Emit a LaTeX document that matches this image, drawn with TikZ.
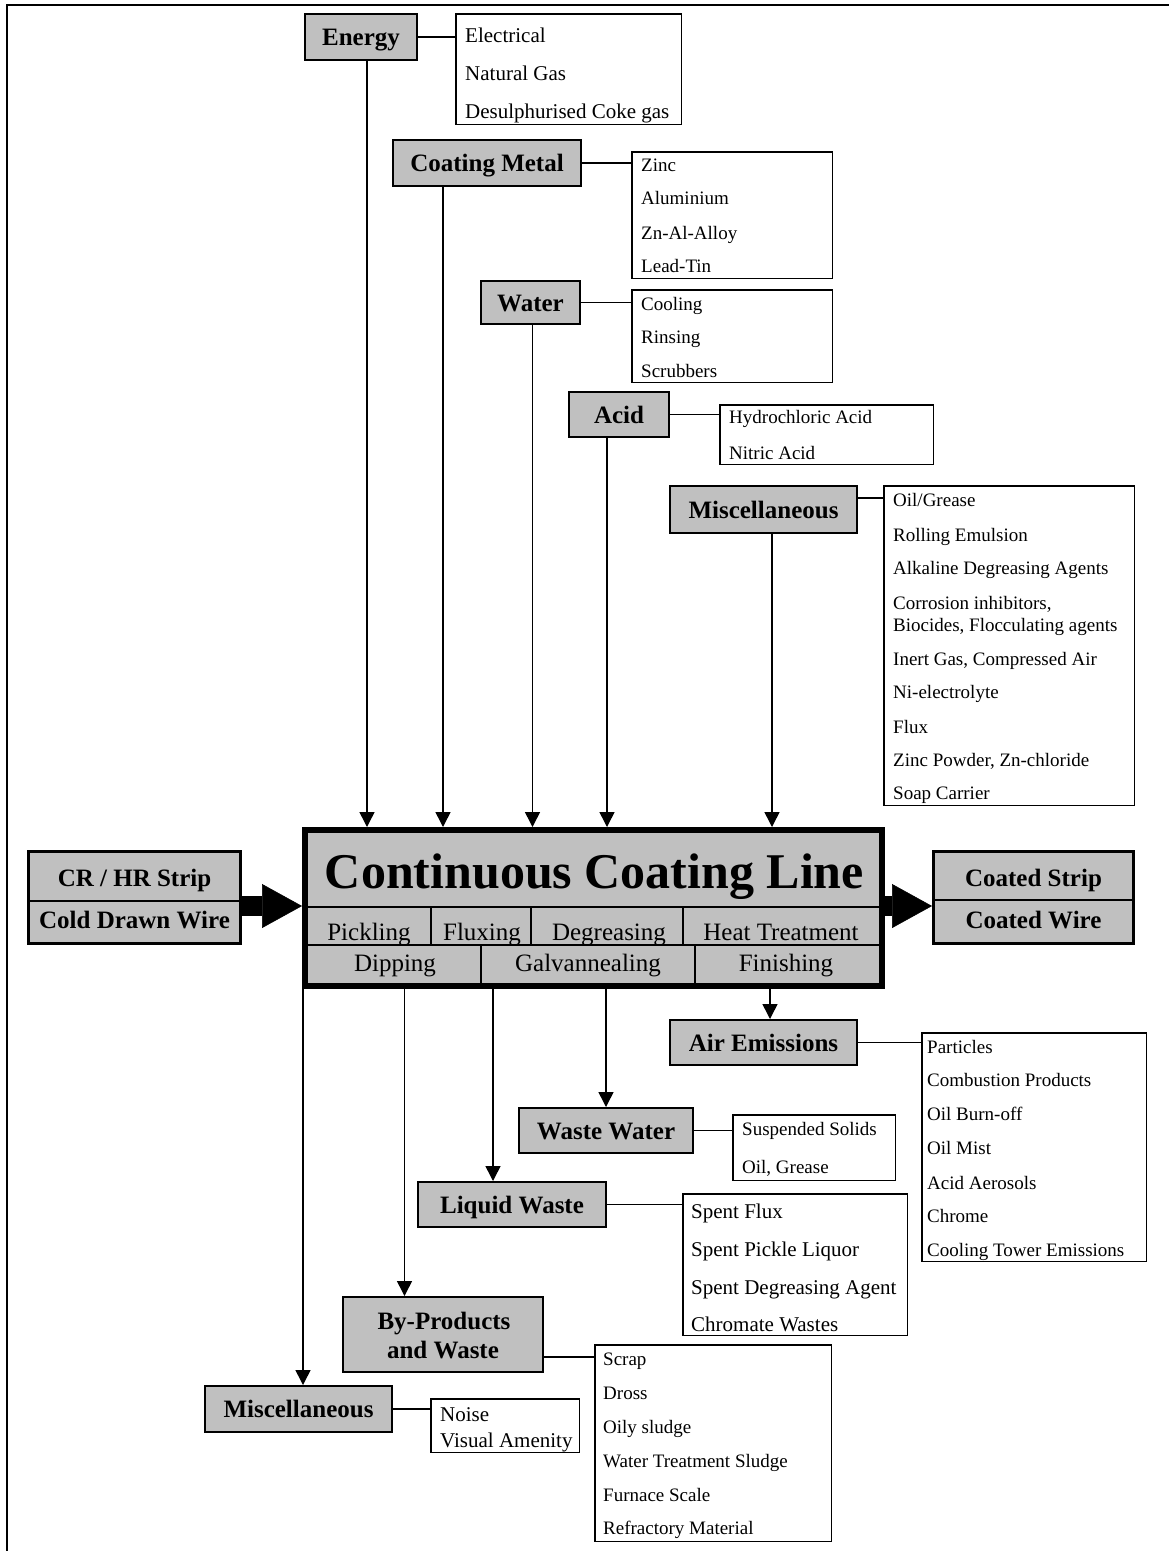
\documentclass[tikz,border=0pt]{standalone}
\usepackage{fontspec}
\setmainfont{Liberation Serif}
\usetikzlibrary{arrows.meta}
\definecolor{boxgray}{RGB}{192,192,192}
\begin{document}
\begin{tikzpicture}[x=1pt,y=-1pt,
  gbox/.style={draw, fill=boxgray, line width=2pt, inner sep=0pt, text height=17pt, text depth=0pt, font=\bfseries\fontsize{25}{29}\selectfont},
  tbox/.style={draw, fill=boxgray, line width=3pt, inner sep=0pt},
  lbox/.style={draw, fill=white, line width=1.5pt, inner sep=0pt},
  lbl/.style={anchor=base, inner sep=0pt, font=\bfseries\fontsize{25}{29}\selectfont},
  rowtxt/.style={anchor=base, inner sep=0pt, font=\fontsize{25}{29}\selectfont},
  item/.style={anchor=west, inner sep=0pt, text height=12.5pt, text depth=0pt, font=\fontsize{19}{22}\selectfont},
  itemL/.style={anchor=west, inner sep=0pt, text height=14pt, text depth=0pt, font=\fontsize{21}{24}\selectfont},
  link/.style={line width=1.5pt},
  arr/.style={line width=1.5pt, -{Triangle[length=15pt,width=15pt]}},
  big/.style={line width=20pt, -{Triangle[length=40pt,width=44pt,line width=0.5pt]}},
  thinrule/.style={line width=1.5pt}
]
\useasboundingbox (0,0) rectangle (1169,1551);
% frame
\draw[line width=2.5pt] (7,5) -- (1169,5);
\draw[line width=2pt] (7,4) -- (7,1551);

% ---------- inputs ----------
\node[gbox, minimum width=112pt, minimum height=46pt] (energy) at (361,37) {Energy};
\node[lbox, minimum width=225.5pt, minimum height=110.5pt] (elist) at (568.5,69) {};
\node[itemL] (e1) at (465,35) {Electrical};
\node[itemL] (e2) at (465,73) {Natural Gas};
\node[itemL] (e3) at (465,111) {Desulphurised Coke gas};
\draw[link] (energy.east) -- (energy.east -| elist.west);

\node[gbox, minimum width=188pt, minimum height=46pt] (coatm) at (487,163) {Coating Metal};
\node[lbox, minimum width=200.5pt, minimum height=126.5pt] (clist) at (732,215) {};
\node[item] (c1) at (641,165) {Zinc};
\node[item] (c2) at (641,198) {Aluminium};
\node[item] (c3) at (641,233) {Zn-Al-Alloy};
\node[item] (c4) at (641,266) {Lead-Tin};
\draw[link] (coatm.east) -- (coatm.east -| clist.west);

\node[gbox, minimum width=99pt, minimum height=43pt] (water) at (530.5,302.5) {Water};
\node[lbox, minimum width=200.5pt, minimum height=92.5pt] (wlist) at (732,336) {};
\node[item] (w1) at (641,304) {Cooling};
\node[item] (w2) at (641,337) {Rinsing};
\node[item] (w3) at (641,371) {Scrubbers};
\draw[link] (water.east) -- (water.east -| wlist.west);

\node[gbox, minimum width=100pt, minimum height=45pt] (acid) at (619,414.5) {Acid};
\node[lbox, minimum width=213.5pt, minimum height=59.5pt] (alist) at (826.5,434.5) {};
\node[item] (a1) at (729,417) {Hydrochloric Acid};
\node[item] (a2) at (729,453) {Nitric Acid};
\draw[link] (acid.east) -- (acid.east -| alist.west);

\node[gbox, minimum width=187pt, minimum height=47pt] (miscin) at (763.5,509.5) {Miscellaneous};
\node[lbox, minimum width=250.5pt, minimum height=319.5pt] (mlist) at (1009,645.5) {};
\node[item] (m1) at (893,500) {Oil/Grease};
\node[item] (m2) at (893,535) {Rolling Emulsion};
\node[item] (m3) at (893,568) {Alkaline Degreasing Agents};
\node[item] (m4) at (893,603) {Corrosion inhibitors,};
\node[item] (m4b) at (893,625) {Biocides, Flocculating agents};
\node[item] (m5) at (893,659) {Inert Gas, Compressed Air};
\node[item] (m6) at (893,692) {Ni-electrolyte};
\node[item] (m7) at (893,727) {Flux};
\node[item] (m8) at (893,760) {Zinc Powder, Zn-chloride};
\node[item] (m9) at (893,793) {Soap Carrier};
\coordinate (ym) at (0,498);
\draw[link] (miscin.east |- ym) -- (mlist.west |- ym);

% ---------- main box ----------
\node[draw, fill=boxgray, line width=6pt, inner sep=0pt, minimum width=577pt, minimum height=156pt] (main) at (593.5,908) {};
\node[anchor=base, inner sep=0pt, font=\bfseries\fontsize{50}{56}\selectfont] (title) at (594.5,888) {Continuous Coating Line};
\coordinate (r1) at (0,907);
\coordinate (r2) at (0,945);
\coordinate (r3) at (0,986);
\draw[thinrule] (main.west |- r1) -- (main.east |- r1);
\draw[thinrule] (main.west |- r2) -- (main.east |- r2);
\draw[thinrule] (431,907) -- (431,945);
\draw[thinrule] (531,907) -- (531,945);
\draw[thinrule] (683,907) -- (683,945);
\draw[thinrule] (481,945) -- (481,986);
\draw[thinrule] (695,945) -- (695,986);
\node[rowtxt] (p1) at (369,940) {Pickling};
\node[rowtxt] (p2) at (482,940) {Fluxing};
\node[rowtxt] (p3) at (609,940) {Degreasing};
\node[rowtxt] (p4) at (781,940) {Heat Treatment};
\node[rowtxt] (q1) at (395,971) {Dipping};
\node[rowtxt] (q2) at (588,971) {Galvannealing};
\node[rowtxt] (q3) at (786,971) {Finishing};

% arrows into main
\coordinate (xE) at (367,0);
\coordinate (xC) at (443,0);
\coordinate (xW) at (532.5,0);
\coordinate (xA) at (607,0);
\coordinate (xM) at (772,0);
\draw[arr] (energy.south -| xE) -- (main.north -| xE);
\draw[arr] (coatm.south -| xC) -- (main.north -| xC);
\draw[arr] (water.south -| xW) -- (main.north -| xW);
\draw[arr] (acid.south -| xA) -- (main.north -| xA);
\draw[arr] (miscin.south -| xM) -- (main.north -| xM);

% ---------- strip in / out ----------
\node[tbox, minimum width=212pt, minimum height=92pt] (crhr) at (134.5,897.5) {};
\draw[thinrule] (crhr.west |- 0,901) -- (crhr.east |- 0,901);
\node[lbl] (crhr1) at (134.5,886) {CR / HR Strip};
\node[lbl] (crhr2) at (134.5,928) {Cold Drawn Wire};

\node[tbox, minimum width=200pt, minimum height=92pt] (coated) at (1033.5,897.5) {};
\draw[thinrule] (coated.west |- 0,900) -- (coated.east |- 0,900);
\node[lbl] (coated1) at (1033.5,886) {Coated Strip};
\node[lbl] (coated2) at (1033.5,928) {Coated Wire};

\coordinate (ay) at (0,906);
\draw[big] (crhr.east |- ay) -- (main.west |- ay);
\draw[big] (main.east |- ay) -- (coated.west |- ay);

% ---------- outputs ----------
\node[gbox, minimum width=187pt, minimum height=45pt] (airem) at (763.5,1042.5) {Air Emissions};
\node[lbox, minimum width=224.5pt, minimum height=228.5pt] (airlist) at (1034,1147) {};
\node[item] (o1) at (927,1047) {Particles};
\node[item] (o2) at (927,1080) {Combustion Products};
\node[item] (o3) at (927,1114) {Oil Burn-off};
\node[item] (o4) at (927,1148) {Oil Mist};
\node[item] (o5) at (927,1183) {Acid Aerosols};
\node[item] (o6) at (927,1216) {Chrome};
\node[item] (o7) at (927,1250) {Cooling Tower Emissions};
\draw[link] (airem.east) -- (airem.east -| airlist.west);

\node[gbox, minimum width=174pt, minimum height=45pt] (wastew) at (606,1130.5) {Waste Water};
\node[lbox, minimum width=162.5pt, minimum height=65.5pt] (wwlist) at (814,1147.5) {};
\node[item] (ww1) at (742,1129) {Suspended Solids};
\node[item] (ww2) at (742,1167) {Oil, Grease};
\draw[link] (wastew.east) -- (wastew.east -| wwlist.west);

\node[gbox, minimum width=188pt, minimum height=45pt] (liqw) at (512,1204.5) {Liquid Waste};
\node[lbox, minimum width=224.5pt, minimum height=141.5pt] (llist) at (795,1264.5) {};
\node[itemL] (l1) at (691,1211) {Spent Flux};
\node[itemL] (l2) at (691,1249) {Spent Pickle Liquor};
\node[itemL] (l3) at (691,1287) {Spent Degreasing Agent};
\node[itemL] (l4) at (691,1324) {Chromate Wastes};
\draw[link] (liqw.east) -- (liqw.east -| llist.west);

\node[gbox, minimum width=200pt, minimum height=75pt, text height=, text depth=] (byprod) at (443,1334.5) {};
\node[lbl] (bp1) at (444,1329) {By-Products};
\node[lbl] (bp2) at (443,1358) {and Waste};
\node[lbox, minimum width=236.5pt, minimum height=196.5pt] (blist) at (713,1443) {};
\node[item] (b1) at (603,1359) {Scrap};
\node[item] (b2) at (603,1393) {Dross};
\node[item] (b3) at (603,1427) {Oily sludge};
\node[item] (b4) at (603,1461) {Water Treatment Sludge};
\node[item] (b5) at (603,1495) {Furnace Scale};
\node[item] (b6) at (603,1528) {Refractory Material};
\coordinate (yb) at (0,1357);
\draw[link] (byprod.east |- yb) -- (blist.west |- yb);

\node[gbox, minimum width=187pt, minimum height=46pt] (miscout) at (298.5,1409) {Miscellaneous};
\node[lbox, minimum width=148.5pt, minimum height=53.5pt] (molist) at (505,1425.5) {};
\node[itemL] (n1) at (440,1414) {Noise};
\node[itemL] (n2) at (440,1440) {Visual Amenity};
\draw[link] (miscout.east) -- (miscout.east -| molist.west);

% arrows out of main
\coordinate (xo1) at (303,0);
\coordinate (xo2) at (404.5,0);
\coordinate (xo3) at (493,0);
\coordinate (xo4) at (606,0);
\coordinate (xo5) at (770,0);
\draw[arr] (main.south -| xo1) -- (miscout.north -| xo1);
\draw[arr] (main.south -| xo2) -- (byprod.north -| xo2);
\draw[arr] (main.south -| xo3) -- (liqw.north -| xo3);
\draw[arr] (main.south -| xo4) -- (wastew.north -| xo4);
\draw[arr] (main.south -| xo5) -- (airem.north -| xo5);
\end{tikzpicture}
\end{document}
